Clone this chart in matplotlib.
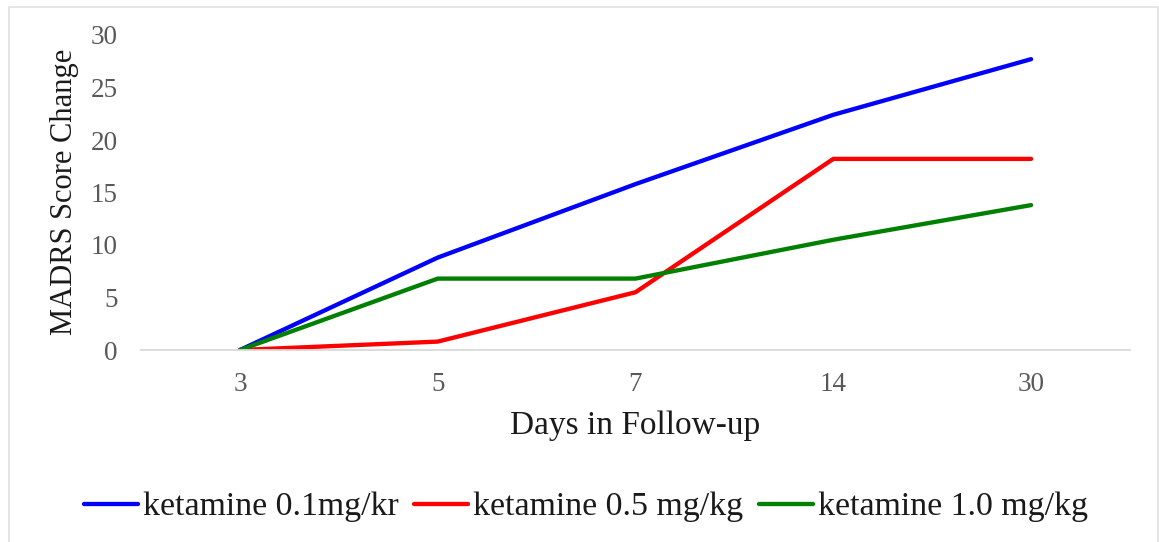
import matplotlib.pyplot as plt
from matplotlib.patches import Rectangle

days = ["3", "5", "7", "14", "30"]
dose_low = [0, 8.8, 15.8, 22.4, 27.7]
dose_mid = [0, 0.8, 5.5, 18.2, 18.2]
dose_high = [0, 6.8, 6.8, 10.5, 13.8]
series_labels = ["ketamine 0.1mg/kr", "ketamine 0.5 mg/kg", "ketamine 1.0 mg/kg"]
series_colors = ["#0000FF", "#FF0000", "#008000"]

plt.rcParams["font.family"] = ["Liberation Serif", "DejaVu Serif"]

W, H = 1159, 542
fig = plt.figure(figsize=(W / 100, H / 100), dpi=100)
ax = fig.add_axes([141 / W, 1 - 350 / H, (1130 - 141) / W, (350 - 35) / H])

x = range(len(days))
for vals, lab, col in zip([dose_low, dose_mid, dose_high], series_labels, series_colors):
    ax.plot(x, vals, color=col, lw=3.1, label=lab, solid_capstyle="round",
            solid_joinstyle="round")

ax.set_xlim(-0.5, len(days) - 0.5)
ax.set_ylim(0, 30)
ax.set_yticks(range(0, 31, 5))
ax.set_xticks(list(x))
ax.set_xticklabels(days)
ax.tick_params(length=0, labelsize=19.5, labelcolor="#595959")
ax.tick_params(axis="y", pad=17)
ax.tick_params(axis="x", pad=16)
for side in ["top", "right", "left"]:
    ax.spines[side].set_visible(False)
ax.spines["bottom"].set_color("#d9d9d9")
ax.spines["bottom"].set_linewidth(1.3)

fig.text(65 / W, 1 - 192 / H, "MADRS Score Change", rotation=90, ha="center",
         va="center", fontsize=22, color="#1a1a1a")
fig.text(635 / W, 1 - 434 / H, "Days in Follow-up", ha="center", va="baseline",
         fontsize=24, color="#1a1a1a")

fig.legend(loc="center", bbox_to_anchor=(586 / W, 1 - 507 / H), ncol=3,
           frameon=False, fontsize=24.4, handlelength=1.6, handletextpad=0.15,
           columnspacing=0.46, labelcolor="#1a1a1a")

# thin frame around the chart area
fig.patches.append(Rectangle((9 / W, -0.02), (1158 - 9) / W, 1 - 6.5 / H + 0.02,
                             transform=fig.transFigure, fill=False,
                             edgecolor="#e0e0e0", lw=1.2))

fig.savefig("out.png", dpi=100)
